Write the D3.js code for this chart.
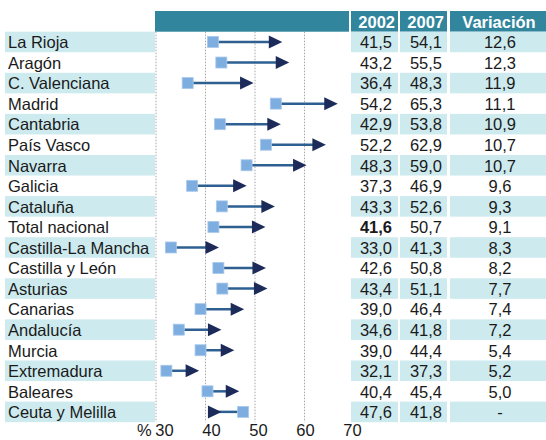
<!DOCTYPE html>
<html><head><meta charset="utf-8">
<script src="https://cdn.jsdelivr.net/npm/d3@7"></script>
<style>body{margin:0;background:#fff;overflow:hidden}svg{display:block;font-family:"Liberation Sans",Arial,sans-serif}</style>
</head><body><svg id="c" width="546" height="440"></svg>
<script>
const regions = ["La Rioja","Aragón","C. Valenciana","Madrid","Cantabria","País Vasco","Navarra","Galicia","Cataluña","Total nacional","Castilla-La Mancha","Castilla y León","Asturias","Canarias","Andalucía","Murcia","Extremadura","Baleares","Ceuta y Melilla"];
const v2002 = [41.5,43.2,36.4,54.2,42.9,52.2,48.3,37.3,43.3,41.6,33.0,42.6,43.4,39.0,34.6,39.0,32.1,40.4,47.6];
const v2007 = [54.1,55.5,48.3,65.3,53.8,62.9,59.0,46.9,52.6,50.7,41.3,50.8,51.1,46.4,41.8,44.4,37.3,45.4,41.8];
const variacion = [12.6,12.3,11.9,11.1,10.9,10.7,10.7,9.6,9.3,9.1,8.3,8.2,7.7,7.4,7.2,5.4,5.2,5.0,null];
const headers = ["2002","2007","Variación"];
const xTicks = [30,40,50,60,70];

(function(){
const loc = d3.formatLocale({decimal:",",thousands:".",grouping:[3],currency:["","€"]});
const f1 = loc.format(".1f");
const FS = 16.5;

const svg = d3.select("#c");
const y0 = 31.7, rowH = 20.55;
const yEnd = y0 + rowH*regions.length;
const y = d3.scaleBand().domain(regions).range([y0, yEnd]).padding(0);
const x = d3.scaleLinear().domain([30,70]).range([156,354]);
const xLab = d3.scaleLinear().domain([30,70]).range([164,352]);
const teal = "#31859c", band = "#cdeaef", ink = "#1a1a1a";

// header
svg.append("rect").attr("x",155).attr("y",11).attr("width",194).attr("height",20.7).attr("fill",teal);
const cols = [{x0:351,x1:398,tx:395,anchor:"end"},{x0:400,x1:447,tx:444,anchor:"end"},{x0:450,x1:546,tx:499,anchor:"middle"}];
cols.forEach((c,i)=>{
  svg.append("rect").attr("x",c.x0).attr("y",11).attr("width",c.x1-c.x0).attr("height",20.7).attr("fill",teal);
  svg.append("text").attr("x",c.tx).attr("y",28.3).attr("text-anchor",c.anchor)
    .attr("fill","#fff").attr("font-weight","bold").attr("font-size",FS).text(headers[i]);
});

// bands
const rows = svg.append("g").selectAll("g").data(regions).join("g");
rows.each(function(d,i){
  if(i%2===0){
    const g = d3.select(this);
    g.append("rect").attr("x",5).attr("y",y(d)).attr("width",150).attr("height",y.bandwidth()).attr("fill",band);
    cols.forEach(c=>g.append("rect").attr("x",c.x0).attr("y",y(d)).attr("width",c.x1-c.x0).attr("height",y.bandwidth()).attr("fill",band));
  }
});

// gridlines
svg.append("g").selectAll("line").data(xTicks.slice(0,4)).join("line")
  .attr("x1",d=>x(d)).attr("x2",d=>x(d)).attr("y1",y0).attr("y2",yEnd)
  .attr("stroke","#a6a6a6").attr("stroke-width",1).attr("stroke-dasharray","1.5,1.5");

// labels
svg.append("g").selectAll("text").data(regions).join("text")
  .attr("x",8).attr("y",d=>y(d)+y.bandwidth()/2+6.3).attr("font-size",FS).attr("fill",ink).text(d=>d);

// marks
const cy = i => y(regions[i]) + y.bandwidth()/2;
const marks = svg.append("g");
regions.forEach((r,i)=>{
  const a = x(v2002[i]), b = x(v2007[i]), c = cy(i);
  marks.append("line").attr("x1",a).attr("x2",b).attr("y1",c).attr("y2",c).attr("stroke","#2e5f91").attr("stroke-width",2.5);
  marks.append("rect").attr("x",a-5.5).attr("y",c-5.5).attr("width",11).attr("height",11).attr("fill","#7eaee0").attr("stroke","#a9c9ec").attr("stroke-width",0.8);
  marks.append("path").attr("d",`M${b-6.5},${c-6.5}L${b+7},${c}L${b-6.5},${c+6.5}Z`).attr("fill","#1c2b5a");
});

// table values
const tv = svg.append("g").attr("font-size",FS).attr("fill",ink);
regions.forEach((r,i)=>{
  const c = cy(i)+6.3;
  tv.append("text").attr("x",392).attr("y",c).attr("text-anchor","end").attr("font-weight",r==="Total nacional"?"bold":null).text(f1(v2002[i]));
  tv.append("text").attr("x",442).attr("y",c).attr("text-anchor","end").text(f1(v2007[i]));
  tv.append("text").attr("x",500).attr("y",c).attr("text-anchor","middle").text(variacion[i]==null?"-":f1(variacion[i]));
});

// axis
const ax = svg.append("g").attr("transform",`translate(0,${yEnd})`)
  .call(d3.axisBottom(xLab).tickValues(xTicks).tickSize(0).tickPadding(0).tickFormat(d=>d));
ax.select(".domain").remove();
ax.selectAll("text").attr("font-size",FS).attr("fill",ink).attr("font-family","Liberation Sans, Arial, sans-serif")
  .attr("dy",null).attr("y",13.8);
svg.append("text").attr("x",137).attr("y",yEnd+13.8).attr("font-size",FS).attr("fill",ink).text("%");
})();
</script></body></html>
